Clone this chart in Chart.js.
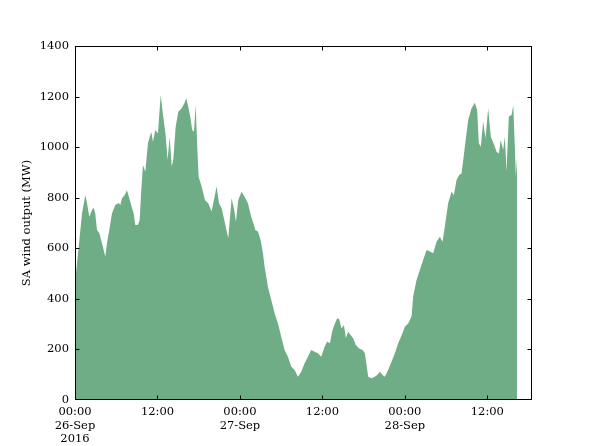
<!DOCTYPE html>
<html lang="en">
<head>
    <meta charset="UTF-8">
    <title>SA wind output</title>
    <script src="https://cdn.jsdelivr.net/npm/chart.js"></script>
    <style>
        body {
            margin: 0;
            background: #fff;
        }
        #wrap {
            width: 593px;
            height: 446px;
        }
    </style>
</head>
<body>

    <div id="wrap">
        <canvas id="windChart" width="593" height="446"></canvas>
    </div>

    <script>
        // hours since 26-Sep-2016 00:00
        const hours = [
            0.00, 0.04, 0.54, 1.02, 1.50, 1.75, 2.08, 2.47, 2.72, 2.95, 3.20, 3.53, 3.93, 4.41, 4.65, 4.99,
            5.38, 5.86, 6.36, 6.59, 6.84, 7.23, 7.56, 7.90, 8.29, 8.54, 8.77, 9.16, 9.41, 9.64, 9.89, 10.23,
            10.62, 11.10, 11.35, 11.68, 12.07, 12.47, 12.84, 13.19, 13.48, 13.77, 14.07, 14.30, 14.65, 15.03,
            15.52, 15.90, 16.19, 16.48, 16.77, 17.06, 17.31, 17.56, 17.79, 17.99, 18.43, 18.91, 19.39, 19.88,
            20.26, 20.61, 20.95, 21.34, 21.82, 22.30, 22.79, 23.17, 23.42, 23.75, 24.25, 24.68, 25.16, 25.64,
            26.04, 26.23, 26.62, 27.01, 27.35, 27.59, 28.07, 28.55, 29.05, 29.53, 30.01, 30.50, 30.98, 31.46,
            31.96, 32.44, 32.92, 33.41, 33.89, 34.37, 34.87, 35.35, 35.83, 36.32, 36.70, 37.09, 37.48, 37.82,
            38.15, 38.44, 38.79, 39.13, 39.42, 39.75, 40.10, 40.48, 40.87, 41.35, 41.85, 42.18, 42.43, 42.66,
            43.16, 43.64, 43.97, 44.36, 44.76, 45.09, 45.57, 46.07, 46.55, 47.03, 47.52, 48.00, 48.48, 48.97,
            49.21, 49.70, 50.18, 50.66, 51.16, 51.64, 52.12, 52.61, 53.09, 53.48, 53.82, 54.30, 54.79, 55.13,
            55.52, 55.90, 56.25, 56.73, 57.21, 57.70, 58.18, 58.52, 58.76, 59.05, 59.39, 59.74, 60.12, 60.51,
            60.99, 61.34, 61.67, 61.96, 62.30, 62.55, 62.79, 63.13, 63.53, 63.77, 64.00, 64.15, 64.33
        ];
        const windMW = [
            455, 475, 606, 738, 811, 779, 725, 751, 760, 738, 672, 660, 620, 567, 620, 672,
            738, 771, 779, 771, 798, 811, 830, 798, 759, 738, 692, 692, 712, 830, 929, 903,
            1016, 1061, 1020, 1068, 1055, 1206, 1120, 1048, 949, 1041, 923, 949, 1081, 1140,
            1154, 1173, 1193, 1160, 1120, 1068, 1061, 1167, 1002, 883, 844, 791, 778, 745,
            798, 844, 778, 759, 699, 640, 798, 751, 705, 791, 824, 804, 778, 725,
            692, 672, 666, 633, 580, 527, 448, 396, 343, 303, 250, 198, 171, 132,
            119, 92, 112, 145, 171, 198, 191, 185, 171, 211, 231, 224, 277, 303,
            323, 320, 283, 297, 244, 270, 257, 244, 218, 204, 198, 185, 138, 92,
            86, 92, 99, 112, 99, 92, 119, 152, 185, 224, 255, 290, 303, 330,
            409, 475, 514, 554, 593, 587, 580, 626, 646, 626, 686, 778, 824, 811,
            870, 890, 896, 1002, 1107, 1154, 1176, 1147, 1015, 1002, 1101, 1035, 1154, 1041,
            1009, 982, 975, 1028, 989, 1041, 903, 1121, 1127, 1167, 1002, 883, 962
        ];

        const xTickValues = [0, 12, 24, 36, 48, 60];
        const xTickLabels = [
            ['00:00', '26-Sep', '2016'],
            '12:00',
            ['00:00', '27-Sep'],
            '12:00',
            ['00:00', '28-Sep'],
            '12:00'
        ];
        const yTickValues = [0, 200, 400, 600, 800, 1000, 1200, 1400];

        const serif = "'DejaVu Serif', 'Liberation Serif', serif";

        // inward ticks on all four sides plus the black frame, like matplotlib classic
        const frameTicks = {
            id: 'frameTicks',
            afterDraw(chart) {
                const { ctx, chartArea: a, scales } = chart;
                const len = 4;
                const top = a.top + 0.5, bottom = a.bottom - 0.5;
                const left = a.left + 0.5, right = a.right - 0.5;
                ctx.save();
                ctx.strokeStyle = '#000';
                ctx.lineWidth = 1;
                ctx.beginPath();
                yTickValues.forEach(v => {
                    let y = Math.round(scales.y.getPixelForValue(v)) + 0.5;
                    y = Math.max(top, Math.min(bottom, y));
                    ctx.moveTo(left, y); ctx.lineTo(left + len, y);
                    ctx.moveTo(right, y); ctx.lineTo(right - len, y);
                });
                xTickValues.forEach(v => {
                    let x = Math.round(scales.x.getPixelForValue(v)) + 0.5;
                    x = Math.max(left, Math.min(right, x));
                    ctx.moveTo(x, bottom); ctx.lineTo(x, bottom - len);
                    ctx.moveTo(x, top); ctx.lineTo(x, top + len);
                });
                ctx.stroke();
                ctx.strokeRect(left, top, right - left, bottom - top);
                ctx.restore();
            }
        };

        const ctx = document.getElementById('windChart').getContext('2d');
        const windChart = new Chart(ctx, {
            type: 'line',
            data: {
                datasets: [{
                    label: 'SA wind output',
                    data: hours.map((h, i) => ({ x: h, y: windMW[i] })),
                    fill: 'origin',
                    backgroundColor: 'rgb(110, 173, 134)',
                    borderWidth: 0,
                    pointRadius: 0,
                    tension: 0
                }]
            },
            options: {
                responsive: false,
                animation: false,
                layout: {
                    padding: { left: 0, top: 46, right: 61, bottom: 0 }
                },
                plugins: {
                    legend: { display: false },
                    tooltip: { enabled: false }
                },
                scales: {
                    x: {
                        type: 'linear',
                        min: 0,
                        max: 66.5,
                        grid: { display: false, drawTicks: false },
                        border: { display: false },
                        afterBuildTicks: scale => {
                            scale.ticks = xTickValues.map(v => ({ value: v }));
                        },
                        afterFit: scale => { scale.height = 46; },
                        ticks: {
                            autoSkip: false,
                            maxRotation: 0,
                            padding: 5,
                            color: '#000',
                            font: { family: serif, size: 11.5, lineHeight: 1.19 },
                            callback: value => xTickLabels[xTickValues.indexOf(value)]
                        }
                    },
                    y: {
                        min: 0,
                        max: 1400,
                        grid: { display: false, drawTicks: false },
                        border: { display: false },
                        afterBuildTicks: scale => {
                            scale.ticks = yTickValues.map(v => ({ value: v }));
                        },
                        afterFit: scale => { scale.width = 75; },
                        ticks: {
                            padding: 6,
                            color: '#000',
                            font: { family: serif, size: 11.5 },
                            callback: value => String(value)
                        },
                        title: {
                            display: true,
                            text: 'SA wind output (MW)',
                            color: '#000',
                            padding: { top: 20, bottom: 0 },
                            font: { family: serif, size: 11.5 }
                        }
                    }
                }
            },
            plugins: [frameTicks]
        });
    </script>

</body>
</html>
